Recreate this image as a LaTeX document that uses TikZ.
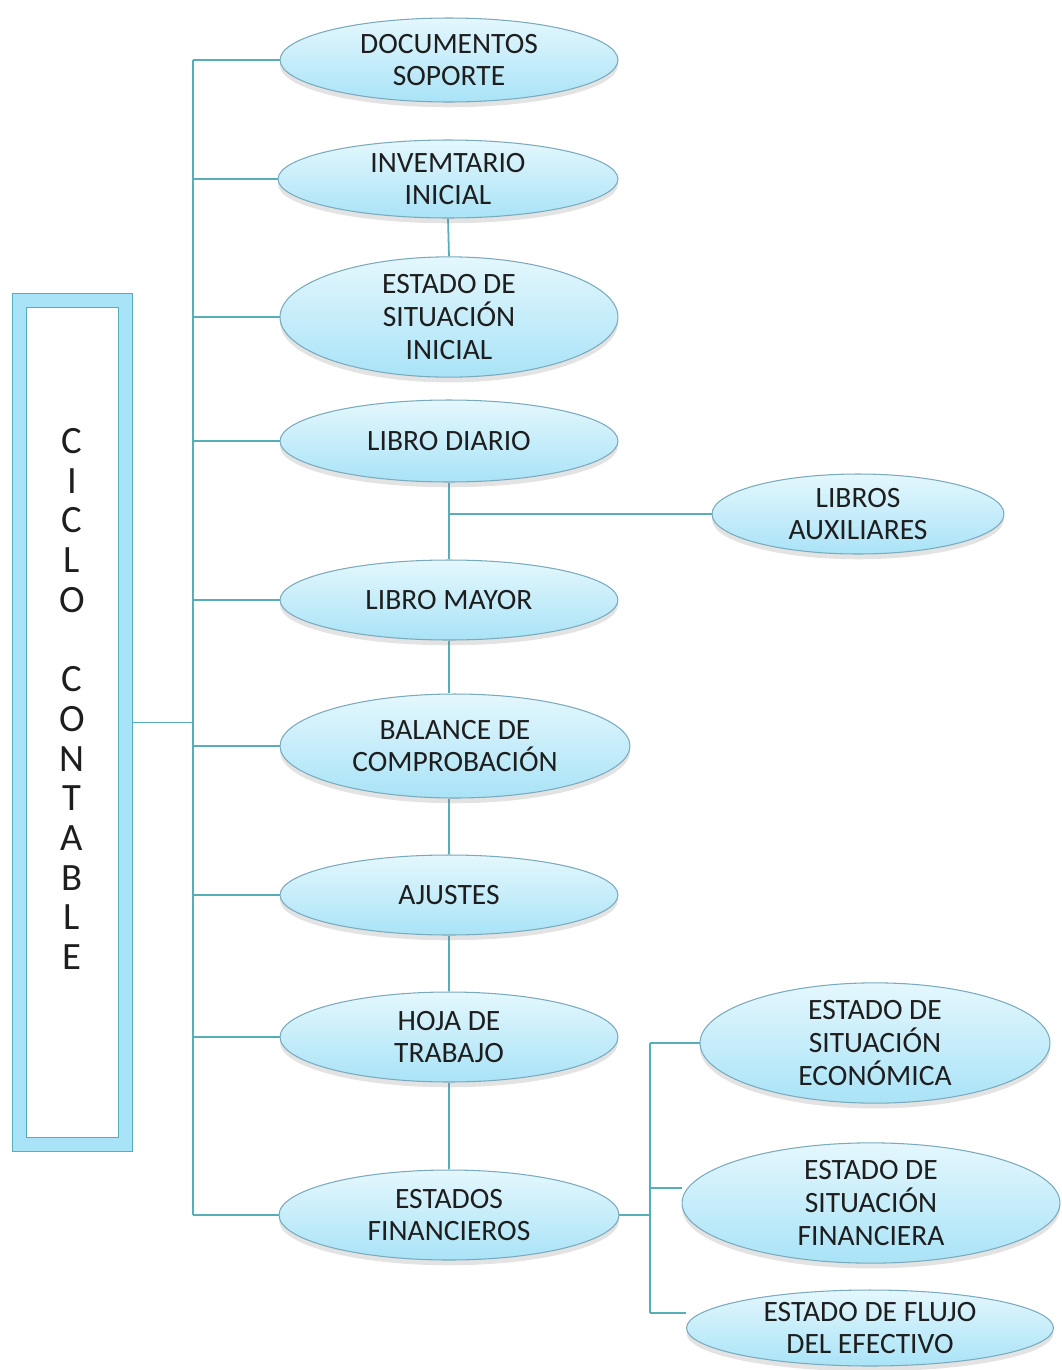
\documentclass[tikz,border=0pt]{standalone}
\usepackage{fontspec}
\setmainfont{Carlito}
\usetikzlibrary{shapes.geometric,shadows,backgrounds}

\definecolor{linea}{HTML}{55AEB8}
\definecolor{borde}{HTML}{7AAABD}
\definecolor{cielo}{HTML}{E4F7FD}
\definecolor{celeste}{HTML}{A9E3F7}
\definecolor{banda}{HTML}{A9E3F7}
\definecolor{texto}{HTML}{1E1E1E}

\tikzset{
   paso/.style={ellipse, draw=borde, line width=0.6pt, top color=cielo,
      bottom color=celeste, inner sep=0pt, align=center, text=texto,
      font=\fontsize{16.8}{18.7}\selectfont,
      drop shadow={opacity=0.22, shadow xshift=0pt, shadow yshift=-3pt}},
   tam/.style 2 args={minimum width=#1cm, minimum height=#2cm},
   enlace/.style={draw=linea, line width=1pt}
}

\begin{document}
\begin{tikzpicture}[x=0.02cm, y=-0.02cm]
   \useasboundingbox (0,0) rectangle (1062,1370);

   % recuadro de la izquierda
   \node (ciclo) [draw=linea, line width=0.8pt, double=banda, double distance=0.26cm,
      fill=white, minimum width=2.12cm, minimum height=16.88cm, inner sep=0pt,
      outer sep=0pt, drop shadow={opacity=0.22, shadow xshift=0pt, shadow yshift=-3pt}]
      at (72.5,722.5) {};
   \node (ciclotxt) [align=center, text=texto, font=\fontsize{22}{22.6}\selectfont]
      at (72,699) {C\\I\\C\\L\\O\\[22.6pt]C\\O\\N\\T\\A\\B\\L\\E};

   % columna principal
   \node (docs)    [paso, tam={6.76}{1.68}] at (449,60)   {DOCUMENTOS\\SOPORTE};
   \node (inv)     [paso, tam={6.8}{1.56}]  at (448,179)  {INVEMTARIO\\INICIAL};
   \node (esi)     [paso, tam={6.76}{2.32}] at (449,317)  {ESTADO DE\\SITUACIÓN\\INICIAL};
   \node (diario)  [paso, tam={6.76}{1.64}] at (449,441)  {LIBRO DIARIO};
   \node (mayor)   [paso, tam={6.76}{1.6}]  at (449,600)  {LIBRO MAYOR};
   \node (balance) [paso, tam={7.0}{2.08}]  at (455,746)  {BALANCE DE\\COMPROBACIÓN};
   \node (ajustes) [paso, tam={6.76}{1.6}]  at (449,895)  {AJUSTES};
   \node (hoja)    [paso, tam={6.76}{1.8}]  at (449,1037) {HOJA DE\\TRABAJO};
   \node (estados) [paso, tam={6.8}{1.8}]   at (449,1215) {ESTADOS\\FINANCIEROS};

   % ramas de la derecha
   \node (aux)   [paso, tam={5.84}{1.6}]  at (858,514)  {LIBROS\\AUXILIARES};
   \node (eco)   [paso, tam={7.0}{2.28}]  at (875,1043) {ESTADO DE\\SITUACIÓN\\ECONÓMICA};
   \node (fin)   [paso, tam={7.56}{2.32}] at (871,1203) {ESTADO DE\\SITUACIÓN\\FINANCIERA};
   \node (flujo) [paso, tam={7.34}{1.52}] at (870,1328) {ESTADO DE FLUJO\\DEL EFECTIVO};

   \coordinate (troncal) at (193,0);
   \coordinate (derecha) at (650,0);
   \coordinate (finent) at ([yshift=0.3cm]fin.west);
   \coordinate (flujoent) at ([yshift=0.3cm]flujo.west);

   \begin{scope}[on background layer]
      \draw[enlace] (ciclo.east) -- (ciclo.east -| troncal);
      \draw[enlace] (docs.west -| troncal) -- (estados.west -| troncal);
      \foreach \n in {docs,inv,esi,diario,mayor,balance,ajustes,hoja,estados}
         \draw[enlace] (\n.west -| troncal) -- (\n.west);
      \draw[enlace] (inv.south) -- (esi.north);
      \draw[enlace] (diario.south) -- (mayor.north);
      \draw[enlace] (diario.south |- aux.west) -- (aux.west);
      \draw[enlace] (mayor.south) -- (mayor.south |- balance.north);
      \draw[enlace] (mayor.south |- balance.south) -- (ajustes.north);
      \draw[enlace] (ajustes.south) -- (hoja.north);
      \draw[enlace] (hoja.south) -- (estados.north);
      % estados financieros
      \draw[enlace] (estados.east) -- (estados.east -| derecha);
      \draw[enlace] (eco.west -| derecha) -- (flujoent -| derecha);
      \draw[enlace] (eco.west -| derecha) -- (eco.west);
      \draw[enlace] (finent -| derecha) -- (finent);
      \draw[enlace] (flujoent -| derecha) -- (flujoent);
   \end{scope}
\end{tikzpicture}
\end{document}
